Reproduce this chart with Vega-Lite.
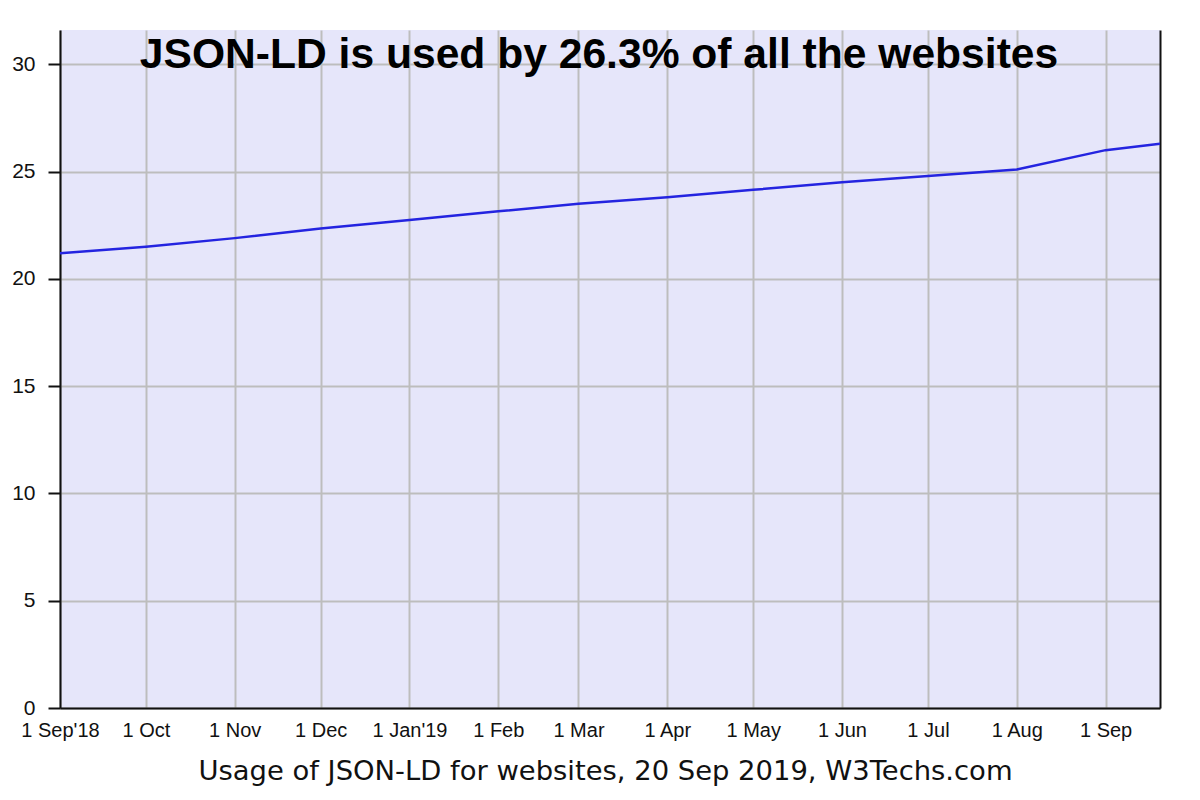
{
  "$schema": "https://vega.github.io/schema/vega-lite/v6.json",
  "autosize": "none",
  "width": 1100,
  "height": 678,
  "padding": {"left": 60, "top": 30, "right": 40, "bottom": 92},
  "background": "white",
  "view": {"fill": "#e6e6fa", "stroke": null},
  "title": {
    "text": "JSON-LD is used by 26.3% of all the websites",
    "font": "Liberation Sans",
    "fontWeight": "bold",
    "fontSize": 42.6,
    "color": "#000000",
    "anchor": "middle",
    "frame": "group",
    "baseline": "alphabetic",
    "offset": -38,
    "dx": -11,
    "dy": 43
  },
  "data": {
    "values": [
      {"date": "2018-09-01", "pct": 21.2},
      {"date": "2018-10-01", "pct": 21.5},
      {"date": "2018-11-01", "pct": 21.9},
      {"date": "2018-12-01", "pct": 22.35},
      {"date": "2019-01-01", "pct": 22.75},
      {"date": "2019-02-01", "pct": 23.15},
      {"date": "2019-03-01", "pct": 23.5},
      {"date": "2019-04-01", "pct": 23.8},
      {"date": "2019-05-01", "pct": 24.15},
      {"date": "2019-06-01", "pct": 24.5},
      {"date": "2019-07-01", "pct": 24.8},
      {"date": "2019-08-01", "pct": 25.1},
      {"date": "2019-09-01", "pct": 26.0},
      {"date": "2019-09-20", "pct": 26.3}
    ]
  },
  "layer": [
    {
      "mark": {"type": "line", "color": "#2424e0", "strokeWidth": 2.5, "clip": true},
      "encoding": {
        "x": {
          "field": "date",
          "type": "temporal",
          "scale": {"type": "utc", "domain": [{"year": 2018, "month": 9, "date": 1, "utc": true}, {"year": 2019, "month": 9, "date": 20, "utc": true}]},
          "axis": {
            "values": [
              {"year": 2018, "month": 9, "date": 1, "utc": true},
              {"year": 2018, "month": 10, "date": 1, "utc": true},
              {"year": 2018, "month": 11, "date": 1, "utc": true},
              {"year": 2018, "month": 12, "date": 1, "utc": true},
              {"year": 2019, "month": 1, "date": 1, "utc": true},
              {"year": 2019, "month": 2, "date": 1, "utc": true},
              {"year": 2019, "month": 3, "date": 1, "utc": true},
              {"year": 2019, "month": 4, "date": 1, "utc": true},
              {"year": 2019, "month": 5, "date": 1, "utc": true},
              {"year": 2019, "month": 6, "date": 1, "utc": true},
              {"year": 2019, "month": 7, "date": 1, "utc": true},
              {"year": 2019, "month": 8, "date": 1, "utc": true},
              {"year": 2019, "month": 9, "date": 1, "utc": true}
            ],
            "labelExpr": "(utcmonth(datum.value) == 0 || (utcmonth(datum.value) == 8 && utcyear(datum.value) == 2018)) ? utcFormat(datum.value, \"1 %b'%y\") : utcFormat(datum.value, '1 %b')",
            "title": "Usage of JSON-LD for websites, 20 Sep 2019, W3Techs.com",
            "titleFont": "DejaVu Sans",
            "titleFontWeight": "normal",
            "titleFontSize": 27.4,
            "titleColor": "#111111",
            "titlePadding": 17,
            "titleX": 545,
            "labelFont": "Liberation Sans",
            "labelFontSize": 20,
            "labelColor": "#111111",
            "labelPadding": 12,
            "labelAngle": 0,
            "labelOverlap": false,
            "labelFlush": false,
            "tickSize": 0,
            "domainColor": "#111111",
            "domainWidth": 2,
            "grid": true,
            "gridColor": "#bdbdbd",
            "gridWidth": 2
          }
        },
        "y": {
          "field": "pct",
          "type": "quantitative",
          "scale": {"domain": [0, 31.6], "nice": false, "zero": true},
          "axis": {
            "values": [0, 5, 10, 15, 20, 25, 30],
            "title": null,
            "labelFont": "Liberation Sans",
            "labelFontSize": 21,
            "labelColor": "#111111",
            "labelPadding": 13,
            "tickSize": 12,
            "tickColor": "#111111",
            "tickWidth": 2,
            "domainColor": "#111111",
            "domainWidth": 2,
            "grid": true,
            "gridColor": "#bdbdbd",
            "gridWidth": 2
          }
        }
      }
    },
    {
      "mark": {"type": "line", "opacity": 0},
      "encoding": {
        "x": {"field": "date", "type": "temporal"},
        "y": {
          "field": "pct",
          "type": "quantitative",
          "axis": {"orient": "right", "labels": false, "ticks": false, "grid": false, "title": null, "domainColor": "#111111", "domainWidth": 2}
        }
      }
    }
  ],
  "resolve": {"axis": {"y": "independent"}}
}
